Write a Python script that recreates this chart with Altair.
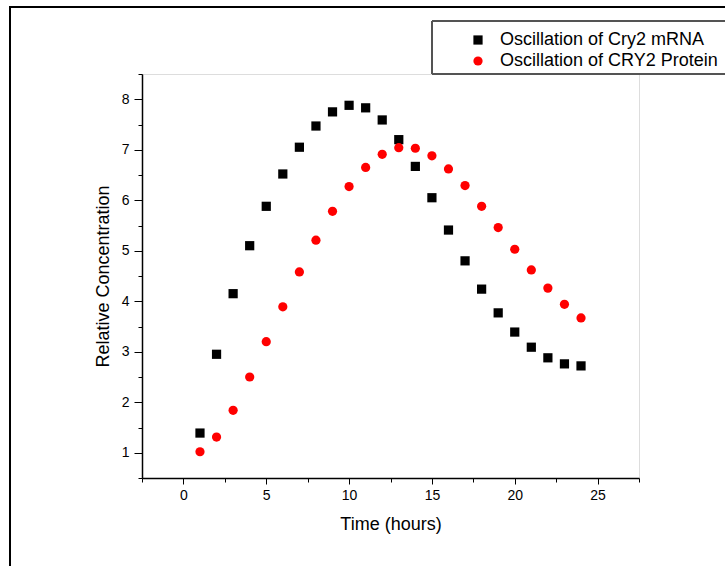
import altair as alt
import pandas as pd

hours = list(range(1, 25))
mrna = [1.39, 2.95, 4.15, 5.10, 5.88, 6.52, 7.05, 7.47, 7.75, 7.88, 7.83, 7.59,
        7.20, 6.67, 6.05, 5.41, 4.80, 4.24, 3.77, 3.39, 3.09, 2.88, 2.76, 2.72]
protein = [1.02, 1.31, 1.84, 2.50, 3.20, 3.89, 4.58, 5.21, 5.78, 6.27, 6.65, 6.91,
           7.04, 7.03, 6.88, 6.62, 6.29, 5.88, 5.46, 5.03, 4.62, 4.26, 3.94, 3.67]
series = ["Oscillation of Cry2 mRNA", "Oscillation of CRY2 Protein"]
x_ticks = [-2.5, 0, 2.5, 5, 7.5, 10, 12.5, 15, 17.5, 20, 22.5, 25, 27.5]
y_ticks = [0.5, 1, 1.5, 2, 2.5, 3, 3.5, 4, 4.5, 5, 5.5, 6, 6.5, 7, 7.5, 8, 8.5]

df = pd.DataFrame({
    "Time": hours * 2,
    "Value": mrna + protein,
    "Series": [series[0]] * len(hours) + [series[1]] * len(hours),
})

FONT = "Liberation Sans"
W, H = 497, 404
PL, PT = 142, 74

x_axis = alt.Axis(
    values=x_ticks, labelExpr="datum.value % 5 === 0 ? format(datum.value, 'd') : ''",
    tickSize={"condition": {"test": "datum.value % 5 === 0", "value": 6}, "value": 4},
    grid=False, domainColor="black", domainWidth=1.5, tickColor="black", tickWidth=1,
    labelFont=FONT, labelFontSize=14, labelColor="black", labelPadding=4,
    title="Time (hours)", titleFont=FONT, titleFontSize=18, titleFontWeight="normal",
    titleColor="black", titlePadding=13,
)
y_axis = alt.Axis(
    values=y_ticks, labelExpr="datum.value % 1 === 0 ? format(datum.value, 'd') : ''",
    tickSize={"condition": {"test": "datum.value % 1 === 0", "value": 8}, "value": 4},
    grid=False, domainColor="black", domainWidth=1.5, tickColor="black", tickWidth=1,
    labelFont=FONT, labelFontSize=14, labelColor="black", labelPadding=5,
    title="Relative Concentration", titleFont=FONT, titleFontSize=18,
    titleFontWeight="normal", titleColor="black", titlePadding=9,
)

points = alt.Chart(df).mark_point(filled=True, opacity=1, size=85).encode(
    x=alt.X("Time:Q", scale=alt.Scale(domain=[-2.5, 27.5], nice=False, zero=False), axis=x_axis),
    y=alt.Y("Value:Q", scale=alt.Scale(domain=[0.5, 8.5], nice=False, zero=False), axis=y_axis),
    color=alt.Color("Series:N", scale=alt.Scale(domain=series, range=["black", "#ff0000"]),
                    legend=alt.Legend(
                        title=None, orient="none", legendX=327, legendY=-43,
                        direction="vertical", labelFont=FONT, labelFontSize=18,
                        labelColor="black", symbolSize=85, labelOffset=13, labelLimit=0,
                        rowPadding=3, padding=0, symbolStrokeWidth=0)),
    shape=alt.Shape("Series:N", scale=alt.Scale(domain=series, range=["square", "circle"])),
)

legend_box = alt.Chart(df).mark_rect(fill=None, stroke="#555555", strokeWidth=1).encode(
    x=alt.value(432 - PL), x2=alt.value(740 - PL),
    y=alt.value(21 - PT), y2=alt.value(74 - PT),
)
frame_top = alt.Chart(df).mark_rule(color="black", strokeWidth=2).encode(
    x=alt.value(9 - PL), x2=alt.value(740 - PL), y=alt.value(7 - PT),
)
frame_left = alt.Chart(df).mark_rule(color="black", strokeWidth=2).encode(
    x=alt.value(10 - PL), y=alt.value(6 - PT), y2=alt.value(580 - PT),
)

chart = alt.layer(frame_top, frame_left, legend_box, points).properties(
    width=W, height=H,
    autosize=alt.AutoSizeParams(type="none"),
    padding={"left": PL, "top": PT, "right": 725 - PL - W, "bottom": 566 - PT - H},
).configure_view(stroke=None).configure(background="white")

chart.save("out.html", embed_options={"renderer": "svg", "actions": False})
